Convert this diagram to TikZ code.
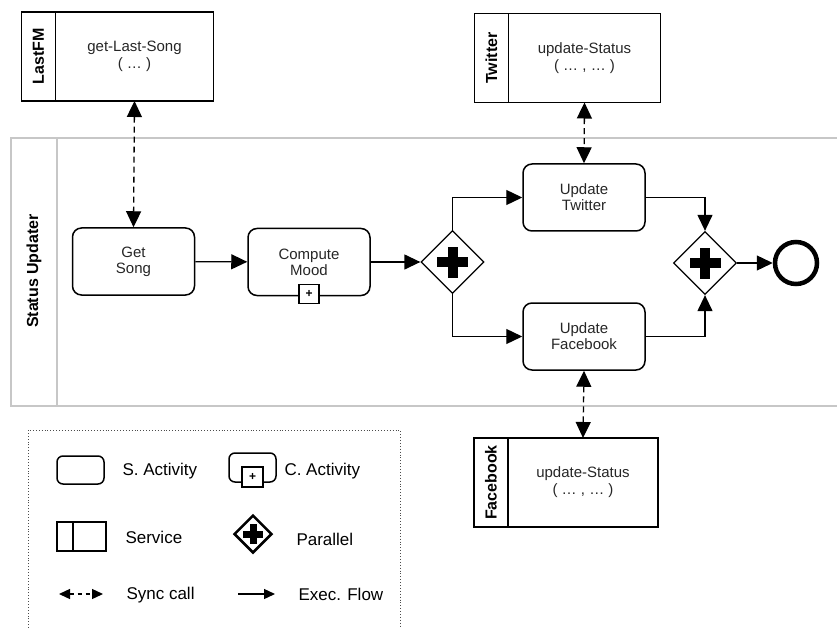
\documentclass[tikz,border=0pt]{standalone}
\usepackage{graphicx}
\usepackage{fontspec}
\setmainfont{Liberation Sans}
\usetikzlibrary{arrows.meta,shapes.geometric,positioning}

% black cross of a parallel gateway
\newcommand{\gwcross}[2]{%
  \fill ([xshift=-#1/2,yshift=-#2/2]path picture bounding box.center) rectangle ++(#1,#2);
  \fill ([xshift=-#2/2,yshift=-#1/2]path picture bounding box.center) rectangle ++(#2,#1);}

\begin{document}
\begin{tikzpicture}[x=1pt,y=-1pt,
  task/.style={draw,line width=1.5pt,rounded corners=9pt,minimum width=122pt,minimum height=67pt,align=center,text=black!85,font=\fontsize{15}{16}\selectfont},
  svcname/.style={draw,line width=1.5pt,outer sep=0pt,minimum width=34pt,minimum height=89pt,inner sep=0pt,font=\bfseries\fontsize{16}{18}\selectfont},
  svcop/.style={draw,line width=1.5pt,outer sep=0pt,minimum height=89pt,align=center,text=black!85,font=\fontsize{15}{17}\selectfont},
  gateway/.style={diamond,draw,line width=1.3pt,inner sep=0pt,minimum size=63pt,path picture={\gwcross{31pt}{10pt}}},
  leggateway/.style={diamond,draw,line width=2.5pt,inner sep=0pt,minimum size=38pt,path picture={\gwcross{20pt}{7pt}}},
  marker/.style={draw,fill=white,line width=1.2pt,minimum width=20pt,minimum height=19pt,inner sep=0pt,font=\bfseries\fontsize{12}{12}\selectfont},
  endevent/.style={circle,draw,line width=4.5pt,minimum size=42pt,inner sep=0pt},
  flow/.style={line width=1.3pt,-{Triangle[length=16pt,width=15pt]}},
  sync/.style={line width=1.3pt,dash pattern=on 6pt off 4pt,{Triangle[length=16pt,width=15pt]}-{Triangle[length=16pt,width=15pt]}},
  legflow/.style={line width=1.3pt,-{Triangle[length=11pt,width=10pt]}},
  legsync/.style={line width=1.3pt,dash pattern=on 4pt off 4pt,{Triangle[length=11pt,width=10pt]}-{Triangle[length=11pt,width=10pt]}},
  pool/.style={line width=1.5pt,draw=black!22},
  legtext/.style={anchor=west,font=\fontsize{17}{19}\selectfont}]
\useasboundingbox (0,0) rectangle (837,628);

% pool
\draw[pool] (837,138) -- (11,138) -- (11,406) -- (837,406);
\draw[pool] (57,138) -- (57,406);
\node[rotate=90,font=\bfseries\fontsize{16}{18}\selectfont] at (34,271) (pooltxt) {Status Updater};

% services
\node[svcname] at (38.5,56.5) (lastfm) {\rotatebox{90}{LastFM}};
\node[svcop,minimum width=158pt,right=0pt of lastfm] (getlast) {get-Last-Song\\( … )};
\node[svcname] at (491.5,58) (twitter) {\rotatebox{90}{Twitter}};
\node[svcop,minimum width=152pt,right=0pt of twitter] (twstatus) {update-Status\\( … , … )};
\node[svcname] at (491,482.5) (facebook) {\rotatebox{90}{Facebook}};
\node[svcop,minimum width=150pt,right=0pt of facebook] (fbstatus) {update-Status\\( … , … )};

% activities
\node[task] at (133.5,261.5) (getsong) {Get\\Song};
\node[task] at (309,262) (mood) {Compute\\Mood};
\node[marker] at ([yshift=2.5pt]mood.south) (moodmark) {+};
\node[task] at (584,197.5) (uptw) {Update\\Twitter};
\node[task] at (584,336.5) (upfb) {Update\\Facebook};
\node[gateway] at (452.5,262) (split) {};
\node[gateway] at (705,263) (join) {};
\node[endevent] at (796,263) (end) {};

% execution flow
\draw[flow] (getsong) -- (mood);
\draw[flow] (mood) -- (split);
\draw[flow] (split.north) |- (uptw.west);
\draw[flow] (split.south) |- (upfb.west);
\draw[flow] (uptw.east) -| (join.north);
\draw[flow] (upfb.east) -| (join.south);
\draw[flow] (join) -- (end);

% sync calls
\draw[sync] (getlast.south) -- (getsong.north);
\draw[sync] (twstatus.south) -- (uptw.north);
\draw[sync] (upfb.south) -- (fbstatus.north);

% legend
\draw[dotted,line width=0.9pt,black!70] (28,628) -- (28,430) -- (400,430) -- (400,628);
\node[task,minimum width=47pt,minimum height=28pt,rounded corners=6pt] at (80.5,470) (legtask) {};
\node[legtext] at (119,471) (legtasktxt) {S. Activity};
\node[task,minimum width=47pt,minimum height=29pt,rounded corners=6pt] at (252.5,467.5) (legsub) {};
\node[marker,minimum width=21pt,minimum height=20pt] at (252.5,477) (legsubmark) {+};
\node[legtext] at (281,471) (legsubtxt) {C. Activity};
\node[svcname,minimum width=16pt,minimum height=29pt] at (65,536.5) (legname) {};
\node[svcop,minimum width=33pt,minimum height=29pt,right=0pt of legname] (legop) {};
\node[legtext] at (122,537) (legsvctxt) {Service};
\node[leggateway] at (253,534) (leggw) {};
\node[legtext] at (293,539) (leggwtxt) {Parallel};
\coordinate (legsyncA) at (59,594);
\coordinate (legsyncB) at (103,594);
\draw[legsync] (legsyncA) -- (legsyncB);
\node[legtext] at (123,595) (legsynctxt) {Sync call};
\coordinate (legflowA) at (238,594);
\coordinate (legflowB) at (275,594);
\draw[legflow] (legflowA) -- (legflowB);
\node[legtext] at (295,594) (legflowtxt) {Exec. Flow};
\end{tikzpicture}
\end{document}
